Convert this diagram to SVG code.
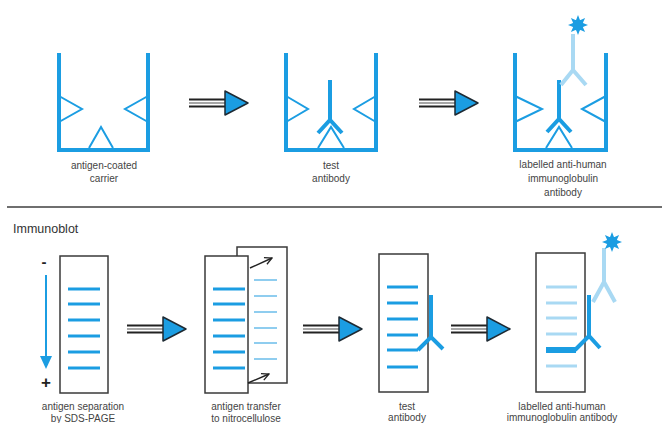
<svg xmlns="http://www.w3.org/2000/svg" width="662" height="423" viewBox="0 0 662 423">
  <defs>
    <style>
      .wall { fill: none; stroke: #1b9de2; stroke-width: 4; stroke-linecap: butt; }
      .ag { fill: none; stroke: #1b9de2; stroke-width: 2; stroke-linejoin: miter; }
      .ab { fill: none; stroke: #1b9de2; stroke-width: 4; stroke-linecap: butt; stroke-linejoin: miter; }
      .ab2 { fill: none; stroke: #a9d9f3; stroke-width: 4; stroke-linecap: butt; stroke-linejoin: miter; }
      .gel { fill: #fff; stroke: #3a3a3a; stroke-width: 1.5; }
      .band { stroke: #1b9de2; stroke-width: 3; }
      .band2 { stroke: #8fcdef; stroke-width: 2; }
      .band3 { stroke: #a9d9f3; stroke-width: 3; }
      .lbl { font-family: "Liberation Sans", Arial, sans-serif; font-size: 10px; fill: #444; text-anchor: middle; }
      .title { font-family: "Liberation Sans", Arial, sans-serif; font-size: 12.5px; fill: #333; }
      .sign { font-family: "Liberation Sans", Arial, sans-serif; fill: #222; text-anchor: middle; font-weight: bold; }
      .shaft { stroke: #222; stroke-width: 2.2; }
      .shaftMid { stroke: #8a8a8a; stroke-width: 1.6; }
      .head { fill: #1b9de2; stroke: #1e2a33; stroke-width: 1.5; stroke-linejoin: round; }
      .xfer { fill: none; stroke: #222; stroke-width: 1.4; }
    </style>
    <!-- fluorescent label -->
    <g id="sun">
      <polygon fill="#1b9de2" points="0,-10 2,-4.8 7.1,-7.1 4.8,-2 10,0 4.8,2 7.1,7.1 2,4.8 0,10 -2,4.8 -7.1,7.1 -4.8,2 -10,0 -4.8,-2 -7.1,-7.1 -2,-4.8"/>
      <circle r="5.5" fill="#1b9de2"/>
    </g>
    <!-- process arrow: striped shaft with blue head -->
    <g id="step">
      <line class="shaft" x1="0" y1="-3.5" x2="37" y2="-3.5"/>
      <line class="shaftMid" x1="0" y1="0" x2="37" y2="0"/>
      <line class="shaft" x1="0" y1="3.5" x2="37" y2="3.5"/>
      <polygon class="head" points="36,-12 59,0 36,12"/>
    </g>
    <marker id="open" viewBox="0 0 10 10" refX="9" refY="5" markerWidth="9" markerHeight="9" markerUnits="userSpaceOnUse" orient="auto">
      <path d="M1,1 L9,5 L1,9" fill="none" stroke="#222" stroke-width="1.4"/>
    </marker>
  </defs>

  <rect width="662" height="423" fill="#fff"/>

  <!-- ELISA row -->
  <g id="well-carrier">
    <path class="wall" d="M59,53 V150 H148 V53"/>
    <path class="ag" d="M59,96 L82,109 L59,122"/>
    <path class="ag" d="M148,96 L125,109 L148,122"/>
    <path class="ag" d="M89,148 L101,127 L113,148"/>
    <text class="lbl" x="104" y="169">antigen-coated</text>
    <text class="lbl" x="104" y="182">carrier</text>
  </g>

  <g id="well-test">
    <path class="wall" d="M286,53 V150 H376 V53"/>
    <path class="ag" d="M286,96 L308,109 L286,122"/>
    <path class="ag" d="M376,96 L354,109 L376,122"/>
    <path class="ag" d="M318,148 L331,127 L344,148"/>
    <path class="ab" d="M330,80 V120 M318,133 L330,120 L342,133"/>
    <text class="lbl" x="331" y="169">test</text>
    <text class="lbl" x="331" y="182">antibody</text>
  </g>

  <g id="well-labelled">
    <path class="wall" d="M515,53 V150 H606 V53"/>
    <path class="ag" d="M515,96 L542,109 L515,122"/>
    <path class="ag" d="M606,96 L582,109 L606,122"/>
    <path class="ag" d="M546,148 L559,127 L572,148"/>
    <path class="ab" d="M559,80 V119 M547,132 L559,119 L571,132"/>
    <path class="ab2" d="M573,34 V70 M561,85 L573,70 L586,85"/>
    <use href="#sun" x="578" y="25"/>
    <text class="lbl" x="563" y="168">labelled anti-human</text>
    <text class="lbl" x="563" y="182">immunoglobulin</text>
    <text class="lbl" x="563" y="196">antibody</text>
  </g>

  <!-- section divider -->
  <line x1="7" y1="207" x2="662" y2="207" stroke="#6f6f6f" stroke-width="2"/>

  <text class="title" x="13" y="233">Immunoblot</text>

  <!-- Immunoblot row -->
  <g id="gel-sds">
    <rect class="gel" x="60" y="256" width="48" height="137"/>
    <g class="band">
      <line x1="68" y1="289" x2="100" y2="289"/>
      <line x1="68" y1="304" x2="100" y2="304"/>
      <line x1="68" y1="320" x2="100" y2="320"/>
      <line x1="68" y1="336" x2="100" y2="336"/>
      <line x1="68" y1="352" x2="100" y2="352"/>
      <line x1="68" y1="368" x2="100" y2="368"/>
    </g>
    <text class="sign" x="44" y="267" font-size="15">-</text>
    <line x1="46" y1="275" x2="46" y2="358" stroke="#1b9de2" stroke-width="2"/>
    <polygon points="40,356 52,356 46,369" fill="#1b9de2"/>
    <text class="sign" x="46" y="388" font-size="17" font-weight="normal">+</text>
    <text class="lbl" x="83" y="410">antigen separation</text>
    <text class="lbl" x="83" y="422">by SDS-PAGE</text>
  </g>

  <g id="gel-transfer">
    <rect class="gel" x="237" y="247" width="50" height="136"/>
    <g class="band2">
      <line x1="254" y1="280" x2="277" y2="280"/>
      <line x1="254" y1="296" x2="277" y2="296"/>
      <line x1="254" y1="312" x2="277" y2="312"/>
      <line x1="254" y1="328" x2="277" y2="328"/>
      <line x1="254" y1="343" x2="277" y2="343"/>
      <line x1="254" y1="359" x2="277" y2="359"/>
    </g>
    <rect class="gel" x="205" y="256" width="43" height="137"/>
    <g class="band">
      <line x1="213" y1="289" x2="245" y2="289"/>
      <line x1="213" y1="304" x2="245" y2="304"/>
      <line x1="213" y1="320" x2="245" y2="320"/>
      <line x1="213" y1="336" x2="245" y2="336"/>
      <line x1="213" y1="352" x2="245" y2="352"/>
      <line x1="213" y1="368" x2="245" y2="368"/>
    </g>
    <line class="xfer" x1="250" y1="268" x2="272" y2="258" marker-end="url(#open)"/>
    <line class="xfer" x1="248" y1="383" x2="269" y2="374" marker-end="url(#open)"/>
    <text class="lbl" x="246" y="410">antigen transfer</text>
    <text class="lbl" x="246" y="422">to nitrocellulose</text>
  </g>

  <g id="blot-test">
    <rect class="gel" x="379" y="254" width="49" height="138"/>
    <g class="band">
      <line x1="387" y1="287" x2="418" y2="287"/>
      <line x1="387" y1="303" x2="418" y2="303"/>
      <line x1="387" y1="319" x2="418" y2="319"/>
      <line x1="387" y1="335" x2="418" y2="335"/>
      <line x1="387" y1="367" x2="418" y2="367"/>
    </g>
    <path class="band" fill="none" d="M387,350 H418"/>
    <path class="ab" d="M431,295 V337 M418,350 L431,337 L443,349"/>
    <text class="lbl" x="407" y="410">test</text>
    <text class="lbl" x="407" y="421">antibody</text>
  </g>

  <g id="blot-labelled">
    <rect class="gel" x="536" y="253" width="49" height="139"/>
    <g class="band3">
      <line x1="546" y1="287" x2="577" y2="287"/>
      <line x1="546" y1="303" x2="577" y2="303"/>
      <line x1="546" y1="318" x2="577" y2="318"/>
      <line x1="546" y1="334" x2="577" y2="334"/>
      <line x1="546" y1="366" x2="577" y2="366"/>
    </g>
    <line x1="546" y1="350" x2="576" y2="350" stroke="#1b9de2" stroke-width="6"/>
    <path class="ab" d="M589,295 V336 M575,350 L589,336 L600,348"/>
    <path class="ab2" d="M604,248 V282 M593,302 L604,282 L615,302"/>
    <use href="#sun" x="612" y="242"/>
    <text class="lbl" x="562" y="410">labelled anti-human</text>
    <text class="lbl" x="562" y="421">immunoglobulin antibody</text>
  </g>

  <!-- process arrows -->
  <g id="connectors">
    <use href="#step" x="189" y="103"/>
    <use href="#step" x="419" y="103"/>
    <use href="#step" x="127" y="329"/>
    <use href="#step" x="303" y="329"/>
    <use href="#step" x="451" y="329"/>
  </g>
</svg>
